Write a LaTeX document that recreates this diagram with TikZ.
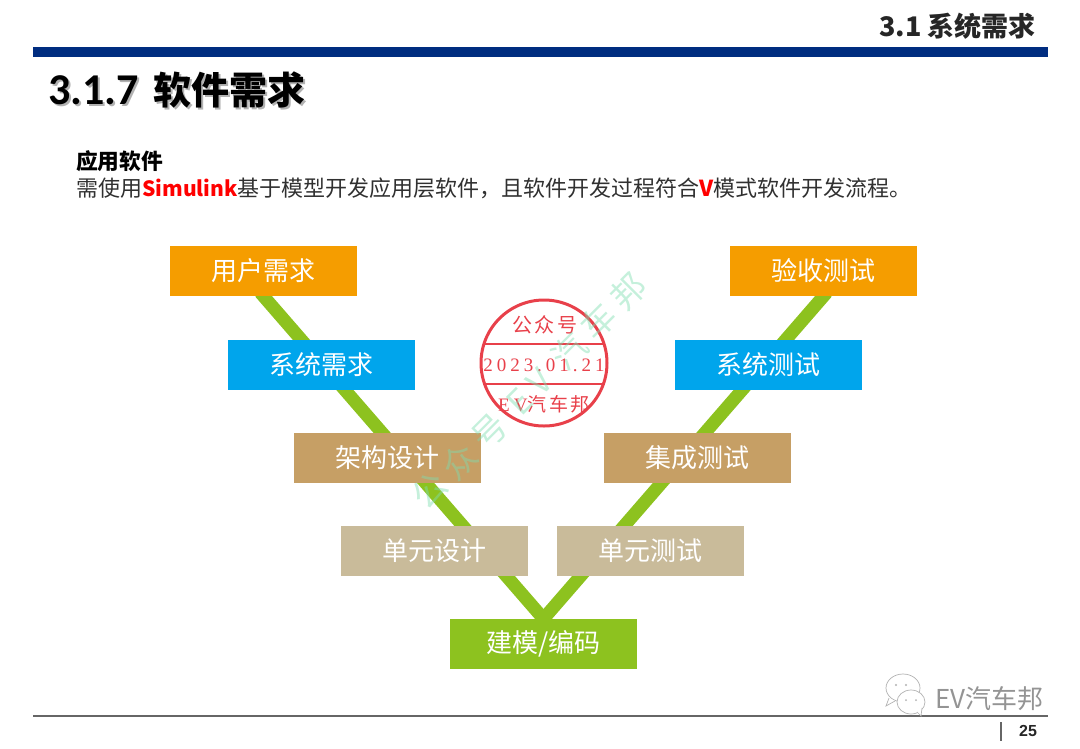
\documentclass[tikz,border=0pt]{standalone}
\usepackage{fontspec}
\setmainfont{Noto Sans CJK SC}
\newfontfamily\latinb{Liberation Sans}
\newfontfamily\titlefont{Carlito}
\newfontfamily\stampdate[LetterSpace=21]{Liberation Serif}
\newfontfamily\stampcjk[LetterSpace=14]{Noto Sans CJK SC}
\newfontfamily\markcjk[LetterSpace=24]{Noto Sans CJK SC}
\usetikzlibrary{backgrounds}
\definecolor{barblue}{HTML}{002D80}
\definecolor{cOrange}{HTML}{F59D00}
\definecolor{cBlue}{HTML}{00A5EC}
\definecolor{cTan}{HTML}{C69F65}
\definecolor{cBeige}{HTML}{C9BB9A}
\definecolor{cGreen}{HTML}{8DC21F}
\definecolor{stampred}{HTML}{E8404A}
\definecolor{bodygray}{HTML}{303030}
\definecolor{markgreen}{HTML}{7FDDB0}
\tikzset{
  vbox/.style={minimum width=187pt,minimum height=50pt,inner sep=0pt,text=white,
    font=\fontsize{26}{30}\selectfont},
  vstripe/.style={line width=13pt,cGreen,shorten <=-5pt,shorten >=-5pt},
  txt/.style={inner sep=0pt,anchor=west,text=bodygray},
  stampline/.style={draw=stampred,line width=2pt},
  stamptext/.style={inner sep=0pt,text=stampred},
}
\newcommand{\titletext}{\titlefont\fontsize{44}{46}\selectfont\bfseries 3.1.7\hspace{15pt}\normalfont\fontsize{38}{42}\selectfont\bfseries 软件需求}
\begin{document}
\begin{tikzpicture}[x=1pt,y=-1pt]
\useasboundingbox (0,0) rectangle (1080,748);
% header
\node[txt,anchor=east,text=black!85] (hdr) at (1036,26) {\fontsize{27}{30}\selectfont\bfseries 3.1 系统需求};
\fill[barblue] (33,47) rectangle (1048,57);
\node[txt,text=black!30] (titleshadow) at (50,92) {\titletext};
\node[txt,text=black] (title) at (48,90) {\titletext};
% body
\node[txt,text=black] (sub) at (76,161) {\fontsize{21.75}{24}\selectfont\bfseries 应用软件};
\node[txt] (body) at (76,188) {\fontsize{22}{24}\selectfont 需使用\textcolor{red}{\fontsize{21}{24}\selectfont\bfseries Simulink}基于模型开发应用层软件，且软件开发过程符合\textcolor{red}{\bfseries V}模式软件开发流程。};
% boxes
\node[vbox,fill=cOrange] (user) at (263.5,271) {用户需求};
\node[vbox,fill=cBlue] (sysreq) at (321.5,365) {系统需求};
\node[vbox,fill=cTan] (arch) at (387.5,458) {架构设计};
\node[vbox,fill=cBeige] (unitd) at (434.5,551) {单元设计};
\node[vbox,fill=cGreen] (code) at (543.5,644) {建模/编码};
\node[vbox,fill=cBeige] (unitt) at (650.5,551) {单元测试};
\node[vbox,fill=cTan] (integ) at (697.5,458) {集成测试};
\node[vbox,fill=cBlue] (syst) at (768.5,365) {系统测试};
\node[vbox,fill=cOrange] (accept) at (823.5,271) {验收测试};
\begin{scope}[on background layer]
\draw[vstripe] (user.south) -- (code.north);
\draw[vstripe] (accept.south) -- (code.north);
\end{scope}
% stamp
\node[circle,minimum size=126pt,inner sep=0pt,stampline,line width=3pt] (stamp) at (544,363) {};
\coordinate (l1a) at (483,344); \coordinate (l1b) at (605,344);
\coordinate (l2a) at (483,384); \coordinate (l2b) at (605,384);
\draw[stampline] (l1a) -- (l1b);
\draw[stampline] (l2a) -- (l2b);
\node[stamptext] (s1) at (545,325) {\fontsize{20}{22}\selectfont\stampcjk 公众号};
\node[stamptext] (s2) at (544,365) {\fontsize{19}{21}\selectfont\stampdate 2023.01.21};
\node[stamptext] (s3) at (544,404) {\fontsize{19}{20}\selectfont\stampdate EV\stampcjk 汽车邦};
% watermark
\node[inner sep=0pt,rotate=45,text=markgreen,opacity=.45] (mark) at (529,391) {\fontsize{34}{38}\selectfont\markcjk 公众号 EV 汽车邦};
% footer
\fill[black!60] (33,715) rectangle (1048,717);
\coordinate (t1) at (1001,722); \coordinate (t2) at (1001,741);
\draw[black!60,line width=1.5pt] (t1) -- (t2);
\node[inner sep=0pt,text=black!85] (page) at (1028,731) {\fontsize{16}{18}\selectfont\bfseries\latinb 25};
% WeChat mark
\draw[black!30,line width=.7pt,fill=white] (903,688) ellipse (17 and 14);
\draw[black!30,line width=.7pt,fill=white] (889,698) -- (886,706) -- (895,701);
\draw[black!30,line width=.7pt,fill=white] (911,702) ellipse (14 and 12);
\draw[black!30,line width=.7pt,fill=white] (917,712) -- (921,716) -- (922,708);
\fill[black!30] (896,685) circle (1.2) (906,685) circle (1.2) (906,700) circle (1) (916,700) circle (1);
\node[txt,text=black!42] (ev) at (935,699) {\fontsize{26}{30}\selectfont EV汽车邦};
\end{tikzpicture}
\end{document}
